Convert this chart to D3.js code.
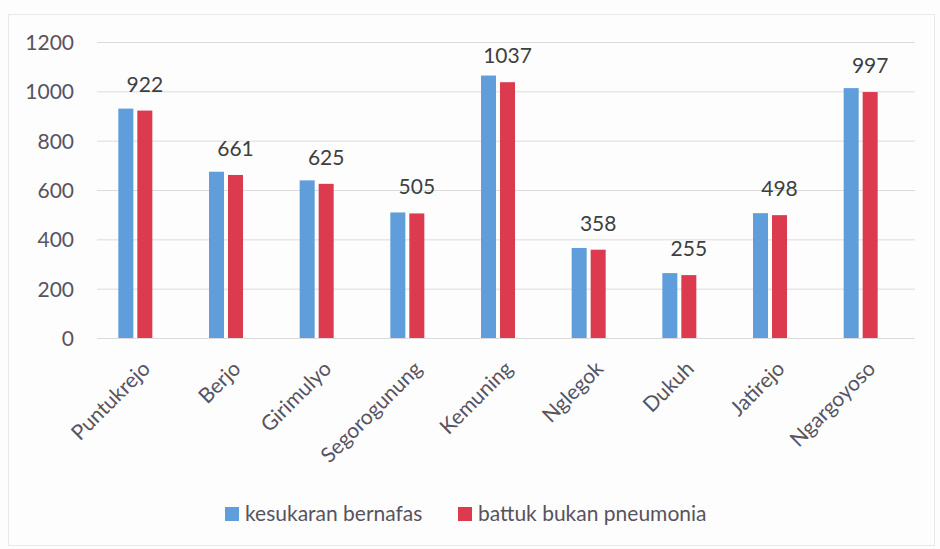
<!DOCTYPE html>
<html>
<head>
<meta charset="utf-8">
<script src="https://cdn.jsdelivr.net/npm/d3@7"></script>
<style>
  html, body { margin: 0; padding: 0; background: #fdfdfd; }
  svg { display: block; font-family: Lato, "Open Sans", sans-serif; }
</style>
</head>
<body>
<svg id="chart" width="940" height="549"></svg>
<script>
const categories = ["Puntukrejo", "Berjo", "Girimulyo", "Segorogunung", "Kemuning", "Nglegok", "Dukuh", "Jatirejo", "Ngargoyoso"];
const seriesNames = ["kesukaran bernafas", "battuk bukan pneumonia"];
const kesukaranBernafas = [930, 674, 639, 509, 1064, 365, 263, 506, 1013];
const battukBukanPneumonia = [922, 661, 625, 505, 1037, 358, 255, 498, 997];
const yTicks = [0, 200, 400, 600, 800, 1000, 1200];
const colors = ["#5f9ddb", "#dc3a4f"];

const svg = d3.select("#chart");
const textColor = "#57535f";
const fs = 21;

// faint border of the chart area
svg.append("rect").attr("x", 8.5).attr("y", 14.5).attr("width", 926).attr("height", 531)
  .attr("fill", "#fdfdfd").attr("stroke", "#e8e8e8").attr("stroke-width", 1);

const y = d3.scaleLinear().domain([0, 1200]).range([338, 42]);
const x0 = d3.scaleBand().domain(categories).range([90, 906]);
const x1 = d3.scaleBand().domain(seriesNames).range([-17, 17]).paddingInner(0.21);

// gridlines
svg.append("g").selectAll("line").data(yTicks).join("line")
  .attr("x1", 97).attr("x2", 915)
  .attr("y1", d => y(d) + 0.5).attr("y2", d => y(d) + 0.5)
  .attr("stroke", "#dcdcdc").attr("stroke-width", 1);

// y axis labels
const yAxis = d3.axisLeft(y).tickValues(yTicks).tickFormat(d3.format("d")).tickSize(0).tickPadding(0);
const gy = svg.append("g").attr("transform", "translate(74,0)").call(yAxis);
gy.select(".domain").remove();
gy.selectAll("text").attr("font-size", fs).attr("fill", textColor)
  .attr("font-family", "Lato, 'Open Sans', sans-serif").attr("dy", "0.36em");

// bars
const rows = categories.map((c, i) => ({ cat: c, vals: [kesukaranBernafas[i], battukBukanPneumonia[i]] }));
const groups = svg.append("g").selectAll("g").data(rows).join("g")
  .attr("transform", d => `translate(${x0(d.cat) + x0.bandwidth() / 2},0)`);
groups.selectAll("rect").data(d => d.vals.map((v, j) => ({ s: seriesNames[j], v, j }))).join("rect")
  .attr("x", d => x1(d.s))
  .attr("width", x1.bandwidth())
  .attr("y", d => y(d.v))
  .attr("height", d => y(0) - y(d.v))
  .attr("fill", d => colors[d.j]);

// data labels (second series)
groups.append("text")
  .attr("x", x1(seriesNames[1]) + x1.bandwidth() / 2)
  .attr("y", d => y(d.vals[1]) - 19)
  .attr("text-anchor", "middle")
  .attr("font-size", fs).attr("fill", "#3f3f3f")
  .text(d => d.vals[1]);

// x labels rotated
svg.append("g").selectAll("text").data(categories).join("text")
  .attr("transform", d => `translate(${x0(d) + x0.bandwidth() / 2 + 16},370) rotate(-45)`)
  .attr("text-anchor", "end")
  .attr("font-size", fs).attr("fill", textColor)
  .text(d => d);

// legend
const legend = svg.append("g");
const legendX = [225, 458];
seriesNames.forEach((s, j) => {
  legend.append("rect").attr("x", legendX[j]).attr("y", 507).attr("width", 14).attr("height", 14)
    .attr("fill", colors[j]);
  legend.append("text").attr("x", legendX[j] + 20).attr("y", 521)
    .attr("font-size", fs).attr("fill", textColor).text(s);
});
</script>
</body>
</html>
